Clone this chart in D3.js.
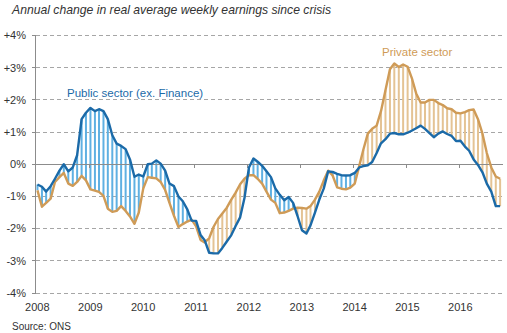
<!DOCTYPE html>
<html>
<head>
<meta charset="utf-8">
<script src="https://cdn.jsdelivr.net/npm/d3@7"></script>
<style>
  html, body { margin: 0; padding: 0; background: #fff; }
  svg { display: block; font-family: "Liberation Sans", Arial, sans-serif; }
  .ytick { font-size: 11px; fill: #333; }
  .xtick { font-size: 11px; fill: #333; }
</style>
</head>
<body>
<div id="chart"></div>
<script>
// Annual % change in real average weekly earnings, monthly from Jan 2008
const startYear = 2008;
const publicSector = [
  -0.63, -0.70, -0.85, -0.68, -0.45, -0.20, 0.00, -0.22, -0.10, 0.28, 1.40, 1.60,
  1.75, 1.65, 1.71, 1.65, 1.40, 0.90, 0.64, 0.57, 0.47, 0.15, -0.39, -0.32,
  -0.38, 0.00, 0.02, 0.12, 0.02, -0.20, -0.60, -0.68, -1.00, -1.15, -1.40, -1.75,
  -1.76, -2.20, -2.36, -2.75, -2.77, -2.77, -2.60, -2.40, -2.20, -1.92, -1.65, -1.05,
  -0.10, 0.18, 0.08, -0.05, -0.22, -0.40, -0.75, -0.95, -1.12, -1.02, -1.20, -1.60,
  -2.05, -2.15, -1.90, -1.50, -1.10, -0.75, -0.22, -0.24, -0.30, -0.34, -0.35, -0.34,
  -0.27, -0.10, -0.06, -0.03, 0.07, 0.35, 0.65, 0.78, 0.95, 0.97, 0.93, 0.93,
  0.98, 1.05, 1.12, 1.20, 1.10, 0.97, 0.84, 0.95, 1.02, 0.94, 0.88, 0.72,
  0.73, 0.55, 0.42, 0.15, -0.02, -0.25, -0.60, -0.85, -1.30, -1.30
];
const privateSector = [
  -0.81, -1.32, -1.20, -1.07, -0.55, -0.40, -0.27, -0.60, -0.67, -0.55, -0.36, -0.50,
  -0.78, -0.82, -0.86, -0.98, -1.38, -1.48, -1.45, -1.30, -1.45, -1.62, -1.85, -1.50,
  -0.75, -0.40, -0.42, -0.44, -0.55, -0.80, -1.20, -1.60, -1.95, -1.86, -1.78, -1.72,
  -1.93, -2.35, -2.43, -2.30, -1.95, -1.70, -1.53, -1.35, -1.10, -0.88, -0.62, -0.45,
  -0.34, -0.34, -0.45, -0.60, -0.85, -1.10, -1.20, -1.52, -1.50, -1.45, -1.38, -1.35,
  -1.36, -1.38, -1.30, -1.10, -0.85, -0.50, -0.20, -0.35, -0.72, -0.76, -0.78, -0.73,
  -0.60, -0.05, 0.45, 0.95, 1.10, 1.20, 1.65, 2.30, 2.95, 3.13, 3.02, 3.10,
  3.03, 2.65, 2.20, 1.92, 1.92, 2.00, 2.00, 1.90, 1.84, 1.74, 1.71, 1.60,
  1.58, 1.62, 1.68, 1.70, 1.40, 0.95, 0.35, -0.10, -0.38, -0.45
];
const yTicks = [4, 3, 2, 1, 0, -1, -2, -3, -4];
const yearTicks = [2008, 2009, 2010, 2011, 2012, 2013, 2014, 2015, 2016];

const W = 507, H = 333;
const BLUE = '#1b6aa8', BLUE_FILL = '#5fb0e2';
const TAN = '#cf9b57', TAN_FILL = '#e4c394';

const data = publicSector.map((p, i) => ({
  date: new Date(startYear, i, 9),
  pub: p,
  priv: privateSector[i]
}));

const svg = d3.select('#chart').append('svg')
  .attr('width', W)
  .attr('height', H);

svg.append('rect').attr('width', W).attr('height', H).attr('fill', '#fff');

const x = d3.scaleTime()
  .domain([new Date(2008, 0, 1), new Date(2016, 0, 1)])
  .range([36.3, 459.3]);
const y = d3.scaleLinear().domain([-4, 4]).range([293, 35.5]);
const plotLeft = 36, plotRight = 503;

// --- Title & source ---
svg.append('text')
  .attr('x', 12).attr('y', 14)
  .attr('font-size', 12.2).attr('font-style', 'italic').attr('fill', '#333')
  .text('Annual change in real average weekly earnings since crisis');

svg.append('text')
  .attr('x', 12).attr('y', 330)
  .attr('font-size', 10).attr('fill', '#333')
  .text('Source: ONS');

// --- Grid ---
const grid = svg.append('g');
grid.selectAll('line')
  .data(yTicks.filter(d => d !== 0))
  .join('line')
  .attr('x1', plotLeft).attr('x2', plotRight)
  .attr('y1', d => y(d)).attr('y2', d => y(d))
  .attr('stroke', '#a6a6a6').attr('stroke-width', 1)
  .attr('stroke-dasharray', '4,3')
  .attr('shape-rendering', 'crispEdges');

// --- Y axis ---
const yAxis = svg.append('g');
yAxis.append('line')
  .attr('x1', plotLeft - 0.5).attr('x2', plotLeft - 0.5)
  .attr('y1', y(4)).attr('y2', y(-4))
  .attr('stroke', '#8c8c8c').attr('shape-rendering', 'crispEdges');
yAxis.selectAll('.ytickmark')
  .data(yTicks)
  .join('line')
  .attr('class', 'ytickmark')
  .attr('x1', plotLeft - 4).attr('x2', plotLeft)
  .attr('y1', d => y(d)).attr('y2', d => y(d))
  .attr('stroke', '#8c8c8c').attr('shape-rendering', 'crispEdges');
yAxis.selectAll('text')
  .data(yTicks)
  .join('text')
  .attr('class', 'ytick')
  .attr('x', 26).attr('y', d => y(d))
  .attr('dy', '0.35em')
  .attr('text-anchor', 'end')
  .text(d => (d > 0 ? '+' : '') + d + '%');

// --- Hatching between the two series ---
svg.append('g')
  .selectAll('line')
  .data(data)
  .join('line')
  .attr('x1', d => x(d.date)).attr('x2', d => x(d.date))
  .attr('y1', d => y(d.pub)).attr('y2', d => y(d.priv))
  .attr('stroke', d => d.pub >= d.priv ? BLUE_FILL : TAN_FILL)
  .attr('stroke-width', 2);

// --- Zero line & year ticks ---
svg.append('line')
  .attr('x1', plotLeft).attr('x2', plotRight)
  .attr('y1', y(0)).attr('y2', y(0))
  .attr('stroke', '#8c8c8c').attr('shape-rendering', 'crispEdges');
svg.append('g')
  .selectAll('line')
  .data(yearTicks.slice(1))
  .join('line')
  .attr('x1', d => x(new Date(d, 0, 1))).attr('x2', d => x(new Date(d, 0, 1)))
  .attr('y1', y(0)).attr('y2', y(0) + 4)
  .attr('stroke', '#8c8c8c').attr('shape-rendering', 'crispEdges');

svg.append('g')
  .selectAll('text')
  .data(yearTicks)
  .join('text')
  .attr('class', 'xtick')
  .attr('x', d => x(new Date(d, 0, 1)) + 1)
  .attr('y', 311)
  .attr('text-anchor', 'middle')
  .text(d => d);

// --- Lines ---
const linePub = d3.line().x(d => x(d.date)).y(d => y(d.pub));
const linePriv = d3.line().x(d => x(d.date)).y(d => y(d.priv));

svg.append('path')
  .datum(data)
  .attr('d', linePriv)
  .attr('fill', 'none').attr('stroke', TAN)
  .attr('stroke-width', 2.4).attr('stroke-linejoin', 'round');

svg.append('path')
  .datum(data)
  .attr('d', linePub)
  .attr('fill', 'none').attr('stroke', BLUE)
  .attr('stroke-width', 2.4).attr('stroke-linejoin', 'round');

// --- Series labels ---
svg.append('text')
  .attr('x', 67).attr('y', 97)
  .attr('font-size', 11.5).attr('fill', BLUE)
  .text('Public sector (ex. Finance)');

svg.append('text')
  .attr('x', 382).attr('y', 56)
  .attr('font-size', 11.5).attr('fill', TAN)
  .text('Private sector');
</script>
</body>
</html>
